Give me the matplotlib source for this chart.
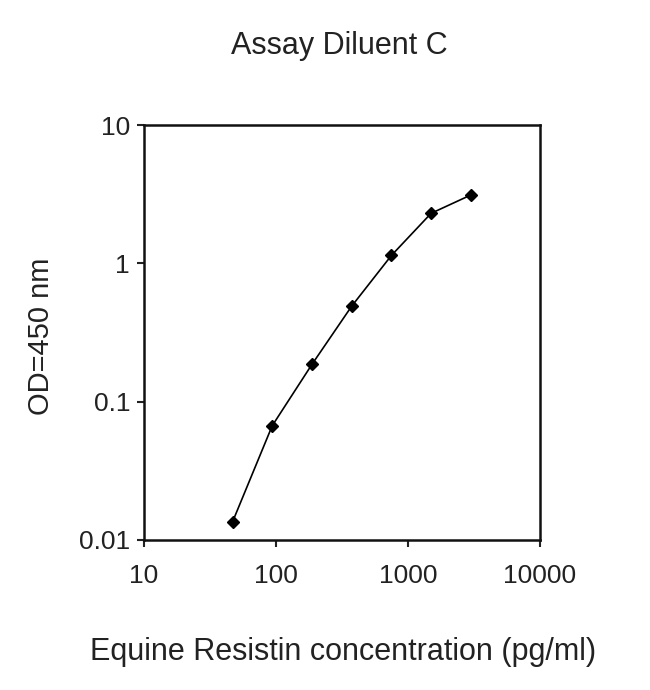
import matplotlib.pyplot as plt

# Données de la courbe standard
concentration = [46.875, 93.75, 187.5, 375, 750, 1500, 3000]
od_450 = [0.0135, 0.067, 0.186, 0.49, 1.14, 2.3, 3.12]

x_ticks = [10, 100, 1000, 10000]
x_tick_labels = ['10', '100', '1000', '10000']
y_ticks = [0.01, 0.1, 1, 10]
y_tick_labels = ['0.01', '0.1', '1', '10']

plt.rcParams['font.family'] = ['Liberation Sans', 'DejaVu Sans']

fig = plt.figure(figsize=(6.5, 6.9), dpi=100)
ax = fig.add_axes([0.2215, 0.2174, 0.609, 0.6014])

ax.plot(concentration, od_450, color='black', linewidth=1.2,
        marker='D', markersize=6, markerfacecolor='black', markeredgecolor='black')

ax.set_xscale('log')
ax.set_yscale('log')
ax.set_xlim(10, 10000)
ax.set_ylim(0.01, 10)
ax.set_xticks(x_ticks)
ax.set_xticklabels(x_tick_labels)
ax.set_yticks(y_ticks)
ax.set_yticklabels(y_tick_labels)
ax.minorticks_off()

ax.tick_params(axis='both', direction='out', length=5, width=1.5,
               labelsize=19, pad=5, top=False, right=False, colors='#222222')
ax.tick_params(axis='x', pad=12)
for spine in ax.spines.values():
    spine.set_linewidth(1.8)
    spine.set_color('#111111')

fig.text(0.522, 0.934, 'Assay Diluent C', ha='center', va='center', fontsize=22, color='#222222')
fig.text(0.528, 0.055, 'Equine Resistin concentration (pg/ml)', ha='center', va='center',
         fontsize=22, color='#222222')
fig.text(0.063, 0.513, 'OD=450 nm', ha='center', va='center', rotation=90, fontsize=21,
         color='#222222')

fig.savefig('out.png', dpi=100)
